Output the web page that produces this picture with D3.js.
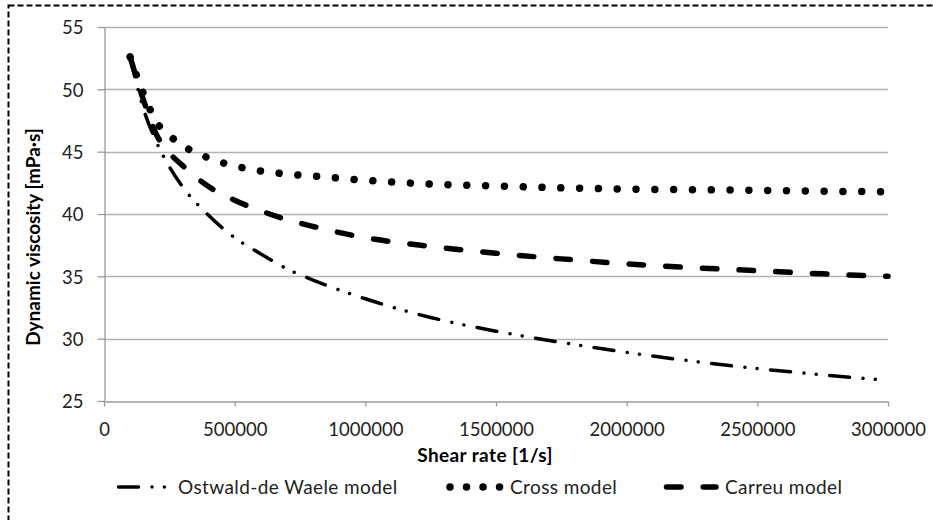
<!DOCTYPE html>
<html>
<head>
<meta charset="utf-8">
<script src="https://cdn.jsdelivr.net/npm/d3@7"></script>
<style>
  body { margin: 0; background: #fff; }
  svg { display: block; font-family: Lato, "Open Sans", sans-serif; }
</style>
</head>
<body>
<svg id="chart" width="933" height="520"></svg>
<script>
'use strict';

// shear rate [1/s]
var shearRates = [100000, 150000, 200000, 250000, 300000, 400000, 500000, 600000, 700000, 800000,
  1000000, 1250000, 1500000, 1750000, 2000000, 2250000, 2500000, 2750000, 3000000];
// dynamic viscosity [mPa·s]
var ostwaldValues = [52.6, 48.5, 45.8, 43.8, 42.2, 39.9, 38.1, 36.8, 35.6, 34.7,
  33.2, 31.7, 30.6, 29.7, 28.9, 28.2, 27.6, 27.1, 26.65];
var crossValues = [52.6, 49.7, 47.4, 46.3, 45.5, 44.5, 43.85, 43.45, 43.2, 43.05,
  42.7, 42.4, 42.25, 42.1, 42.0, 41.95, 41.9, 41.83, 41.78];
var carreuValues = [52.6, 49.2, 46.4, 44.9, 43.9, 42.2, 41.1, 40.25, 39.55, 39.0,
  38.1, 37.4, 36.85, 36.4, 36.0, 35.7, 35.45, 35.2, 35.0];

var seriesNames = ['Ostwald-de Waele model', 'Cross model', 'Carreu model'];
var xTicks = [0, 500000, 1000000, 1500000, 2000000, 2500000, 3000000];
var yTicks = [25, 30, 35, 40, 45, 50, 55];

var svg = d3.select('#chart');

var x = d3.scaleLinear().domain([0, 3000000]).range([104, 888]);
var y = d3.scaleLinear().domain([25, 55]).range([401, 27]);

// outer dashed frame (runs off the right and bottom edge)
svg.append('rect')
  .attr('x', 8.5).attr('y', 5.5)
  .attr('width', 960).attr('height', 540)
  .attr('fill', 'none')
  .attr('stroke', '#000')
  .attr('stroke-width', 2)
  .attr('stroke-dasharray', '6,3');

// horizontal gridlines
svg.append('g').selectAll('line')
  .data(yTicks.slice(1))
  .enter().append('line')
  .attr('x1', x(0)).attr('x2', x(3000000))
  .attr('y1', function(d) { return Math.round(y(d)) + 0.5; })
  .attr('y2', function(d) { return Math.round(y(d)) + 0.5; })
  .attr('stroke', '#b3b3b3')
  .attr('stroke-width', 1.3);

var xAxis = svg.append('g')
  .attr('transform', 'translate(0,' + (Math.round(y(25)) + 0.5) + ')')
  .call(d3.axisBottom(x).tickValues(xTicks).tickSize(5).tickSizeOuter(0).tickFormat(d3.format('d')));

var yAxis = svg.append('g')
  .attr('transform', 'translate(' + (Math.round(x(0)) + 0.5) + ',0)')
  .call(d3.axisLeft(y).tickValues(yTicks).tickSize(7).tickSizeOuter(0));

[xAxis, yAxis].forEach(function(ax) {
  ax.select('.domain').attr('stroke', '#9a9a9a').attr('stroke-width', 1.3);
  ax.selectAll('.tick line').attr('stroke', '#9a9a9a').attr('stroke-width', 1.3);
  ax.selectAll('.tick text')
    .attr('fill', '#222')
    .style('font-family', 'Lato, sans-serif')
    .style('font-size', '18.5px');
});
xAxis.selectAll('.tick text').attr('y', 21);
yAxis.selectAll('.tick text').attr('x', -21).attr('dy', '0.36em');

// axis titles
svg.append('text')
  .attr('x', 485).attr('y', 462)
  .attr('text-anchor', 'middle')
  .style('font-size', '19px')
  .style('font-weight', 'bold')
  .style('letter-spacing', '0.4px')
  .attr('fill', '#000')
  .text('Shear rate [1/s]');

svg.append('text')
  .attr('transform', 'translate(40,237) rotate(-90)')
  .attr('text-anchor', 'middle')
  .style('font-size', '19px')
  .style('font-weight', 'bold')
  .attr('fill', '#000')
  .text('Dynamic viscosity [mPa·s]');

var styles = [
  { width: 3.5, dash: '20,13.5,0.01,12.3,0.01,13.5' },
  { width: 7.5, dash: '0.01,18.8' },
  { width: 5.5, dash: '14.5,22.2' }
];

var line = d3.line()
  .x(function(d) { return x(d[0]); })
  .y(function(d) { return y(d[1]); })
  .curve(d3.curveMonotoneX);

var allSeries = [ostwaldValues, crossValues, carreuValues];

svg.append('g').selectAll('path')
  .data(allSeries)
  .enter().append('path')
  .attr('d', function(vals) {
    return line(vals.map(function(v, i) { return [shearRates[i], v]; }));
  })
  .attr('fill', 'none')
  .attr('stroke', '#000')
  .attr('stroke-linecap', 'round')
  .attr('stroke-width', function(d, i) { return styles[i].width; })
  .attr('stroke-dasharray', function(d, i) { return styles[i].dash; });

// legend
var legendY = 487;
var legendItems = [
  { x1: 118.5, x2: 166, tx: 178, dash: styles[0].dash },
  { x1: 450, x2: 500, tx: 510, dash: '0.01,16.5' },
  { x1: 666.5, x2: 716, tx: 725, dash: styles[2].dash }
];

var legend = svg.append('g').selectAll('g')
  .data(seriesNames)
  .enter().append('g');

legend.append('line')
  .attr('x1', function(d, i) { return legendItems[i].x1; })
  .attr('x2', function(d, i) { return legendItems[i].x2; })
  .attr('y1', legendY).attr('y2', legendY)
  .attr('stroke', '#000')
  .attr('stroke-linecap', 'round')
  .attr('stroke-width', function(d, i) { return styles[i].width; })
  .attr('stroke-dasharray', function(d, i) { return legendItems[i].dash; });

legend.append('text')
  .attr('x', function(d, i) { return legendItems[i].tx; })
  .attr('y', legendY + 7)
  .style('font-size', '19px')
  .style('letter-spacing', '0.4px')
  .attr('fill', '#222')
  .text(function(d) { return d; });
</script>
</body>
</html>
